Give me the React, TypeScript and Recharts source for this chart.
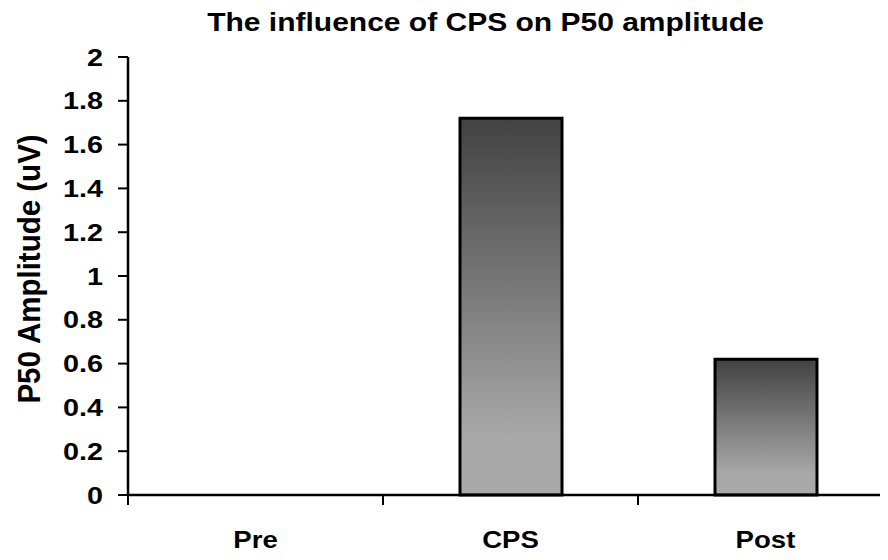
import { BarChart, Bar, XAxis, YAxis } from "recharts";

const categories = ["Pre", "CPS", "Post"];
const amplitude = [0, 1.72, 0.62];
const yTicks = [0, 0.2, 0.4, 0.6, 0.8, 1, 1.2, 1.4, 1.6, 1.8, 2];

// each category sits in the middle of a unit band; tick marks go on band edges
const chartData = categories.map((name, i) => ({ name, pos: i + 0.5, value: amplitude[i] }));
const xTicks = [0, 0.5, 1, 1.5, 2, 2.5, 3];

const FONT = "'Liberation Sans', Arial, Helvetica, sans-serif";
// source image is stretched sideways, so text gets widened too
const STRETCH = 1.2;

const YTick = ({ x, y, payload }: any) => (
  <text
    x={0}
    y={0}
    dy="0.355em"
    textAnchor="end"
    transform={`translate(${x},${y}) scale(${STRETCH},1)`}
    fontFamily={FONT}
    fontWeight="bold"
    fontSize={24}
    fill="#000"
  >
    {String(Number(payload.value.toFixed(1)))}
  </text>
);

const XTick = ({ x, y, payload }: any) => {
  const v = payload.value;
  if (Number.isInteger(v)) {
    return <line x1={x} x2={x} y1={y} y2={y + 10} stroke="#000" strokeWidth={2} />;
  }
  return (
    <text
      x={0}
      y={0}
      dy="0.71em"
      textAnchor="middle"
      transform={`translate(${x},${y + 37}) scale(${STRETCH},1)`}
      fontFamily={FONT}
      fontWeight="bold"
      fontSize={23}
      fill="#000"
    >
      {categories[Math.floor(v)]}
    </text>
  );
};

export default function App() {
  return (
    <div
      style={{
        position: "relative",
        margin: -8,
        width: 888,
        height: 560,
        overflow: "hidden",
        background: "#fff",
      }}
    >
      <BarChart
        width={900}
        height={560}
        data={chartData}
        margin={{ top: 57, right: 7, left: 0, bottom: 0 }}
      >
        <defs>
          <linearGradient id="barShade" x1="0" y1="0" x2="0" y2="1">
            <stop offset="0%" stopColor="#424242" />
            <stop offset="85%" stopColor="#a9a9a9" />
            <stop offset="100%" stopColor="#a9a9a9" />
          </linearGradient>
        </defs>

        <XAxis
          dataKey="pos"
          type="number"
          domain={[0, 3]}
          ticks={xTicks}
          interval={0}
          allowDataOverflow
          height={65}
          tickLine={false}
          tickSize={0}
          tickMargin={0}
          axisLine={{ stroke: "#000", strokeWidth: 2.5 }}
          tick={<XTick />}
        />
        <YAxis
          width={128}
          domain={[0, 2]}
          ticks={yTicks}
          interval={0}
          tickSize={10}
          tickMargin={15}
          axisLine={{ stroke: "#000", strokeWidth: 2.5 }}
          tickLine={{ stroke: "#000", strokeWidth: 2 }}
          tick={<YTick />}
        />

        <Bar
          dataKey="value"
          barSize={102}
          fill="url(#barShade)"
          stroke="#000"
          strokeWidth={3}
          isAnimationActive={false}
        />
      </BarChart>

      <svg
        width={888}
        height={560}
        style={{ position: "absolute", left: 0, top: 0, pointerEvents: "none" }}
      >
        <text
          x={0}
          y={0}
          textAnchor="middle"
          transform={`translate(485.5,31) scale(${STRETCH},1)`}
          fontFamily={FONT}
          fontWeight="bold"
          fontSize={25}
          fill="#000"
        >
          The influence of CPS on P50 amplitude
        </text>
        <text
          x={0}
          y={0}
          dy="0.355em"
          textAnchor="middle"
          transform="translate(29,269) rotate(-90) scale(1,1.05)"
          fontFamily={FONT}
          fontWeight="bold"
          fontSize={29.5}
          fill="#000"
        >
          P50 Amplitude (uV)
        </text>
      </svg>
    </div>
  );
}
